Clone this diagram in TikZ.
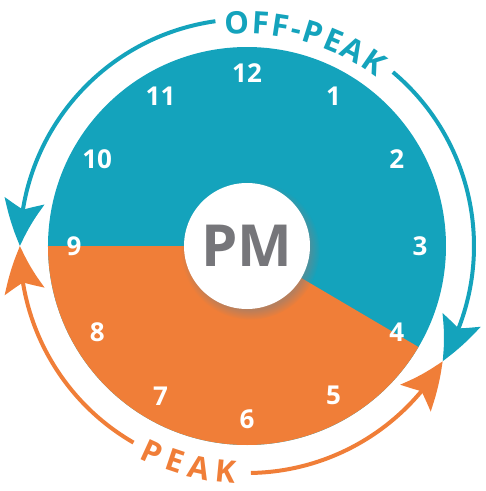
\documentclass[tikz,border=0pt]{standalone}
\usepackage{fontspec}
\setmainfont{Open Sans}
\usetikzlibrary{arrows.meta}
\usetikzlibrary{bending}
\usetikzlibrary{decorations.text}
\usetikzlibrary{shadows}
\definecolor{offpeak}{RGB}{20,163,188}
\definecolor{peak}{RGB}{240,126,56}
\definecolor{pmgray}{RGB}{118,118,122}

\begin{document}
\begin{tikzpicture}[x=1pt, y=1pt]

\tikzset{hour/.style = {text=white, font=\fontsize{26}{26}\selectfont\bfseries}}
\tikzset{dialcentre/.style = {shape=circle, fill=white, minimum size=126pt, inner sep=0pt, text=pmgray, font=\fontsize{58}{58}\selectfont\bfseries, circular drop shadow={shadow xshift=3pt, shadow yshift=-4pt, opacity=0.5}}}
\tikzset{ringarrow/.style = {line width=4pt, > = {Stealth[length=46pt, width=40pt, inset=9pt, bend]}}}
\tikzset{ringtext/.style = {decorate, decoration={text along path, text align=fit to path, text format delimiters={|}{|}}}}

\useasboundingbox (-247,-245) rectangle (239,246);
% dial
\fill[offpeak] (0,0) circle[radius=199];
\fill[peak] (0,0) -- (180:199) arc[start angle=180, end angle=329.5, radius=199] -- cycle;
\node[dialcentre] (pm) at (0,0) {PM};
\foreach \h in {1,...,12}
  \node[hour] (h\h) at ({90-30*\h}:173) {\h};
% ring ends
\coordinate (west) at (180:227);
\coordinate (east) at (-30.5:227);
\coordinate (offgap) at (98:227);
\coordinate (peakgap) at (271:227);
%arrows
\draw[ringarrow, <-, offpeak] (east) arc[start angle=-30.5, end angle=50, radius=227];
\draw[ringarrow, ->, offpeak] (offgap) arc[start angle=98, end angle=180, radius=227];
\draw[ringarrow, <-, peak] (west) arc[start angle=180, end angle=240, radius=227];
\draw[ringarrow, ->, peak] (peakgap) arc[start angle=271, end angle=329.5, radius=227];
% labels
\path[ringtext, decoration={text={|\color{offpeak}\fontsize{31}{31}\selectfont\bfseries|OFF-PEAK}}]
  (96:212) arc[start angle=96, end angle=52.5, radius=212];
\path[ringtext, decoration={text={|\color{peak}\fontsize{31}{31}\selectfont\bfseries|PEAK}}]
  (243:238) arc[start angle=243, end angle=267, radius=238];
\end{tikzpicture}
\end{document}
